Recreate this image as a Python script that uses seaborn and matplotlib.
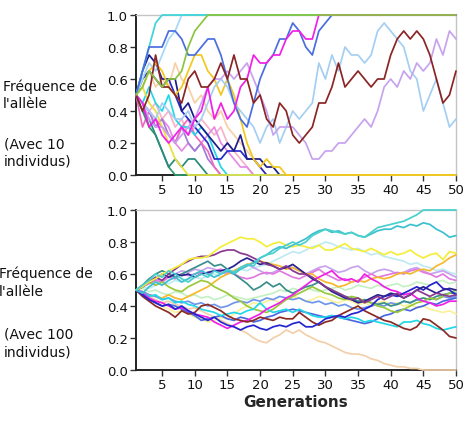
import matplotlib
matplotlib.use("Agg")
import matplotlib.pyplot as plt
import seaborn as sns
import pandas as pd
import numpy as np

generations = list(range(1, 51))

# ---------------- Top panel: 10 individuals ----------------
t_turq = [0.5, 0.65, 0.8, 0.95, 1.0, 1.0, 1.0, 1.0, 1.0, 1.0,
          1.0, 1.0, 1.0, 1.0, 1.0, 1.0, 1.0, 1.0, 1.0, 1.0,
          1.0, 1.0, 1.0, 1.0, 1.0, 1.0, 1.0, 1.0, 1.0, 1.0,
          1.0, 1.0, 1.0, 1.0, 1.0, 1.0, 1.0, 1.0, 1.0, 1.0,
          1.0, 1.0, 1.0, 1.0, 1.0, 1.0, 1.0, 1.0, 1.0, 1.0]
t_skyblue = [0.5, 0.6, 0.7, 0.65, 0.75, 0.85, 0.9, 1.0, 1.0, 1.0,
             1.0, 1.0, 1.0, 1.0, 1.0, 1.0, 1.0, 1.0, 1.0, 1.0,
             1.0, 1.0, 1.0, 1.0, 1.0, 1.0, 1.0, 1.0, 1.0, 1.0,
             1.0, 1.0, 1.0, 1.0, 1.0, 1.0, 1.0, 1.0, 1.0, 1.0,
             1.0, 1.0, 1.0, 1.0, 1.0, 1.0, 1.0, 1.0, 1.0, 1.0]
t_royal = [0.5, 0.65, 0.8, 0.8, 0.8, 0.9, 0.9, 0.85, 0.75, 0.75,
           0.8, 0.85, 0.85, 0.75, 0.6, 0.45, 0.35, 0.3, 0.45, 0.6,
           0.7, 0.75, 0.85, 0.85, 0.95, 0.9, 0.8, 0.75, 0.9, 0.95,
           1.0, 1.0, 1.0, 1.0, 1.0, 1.0, 1.0, 1.0, 1.0, 1.0,
           1.0, 1.0, 1.0, 1.0, 1.0, 1.0, 1.0, 1.0, 1.0, 1.0]
t_magenta = [0.5, 0.45, 0.3, 0.35, 0.25, 0.2, 0.25, 0.3, 0.25, 0.35,
             0.4, 0.55, 0.35, 0.45, 0.35, 0.4, 0.55, 0.6, 0.75, 0.7,
             0.7, 0.75, 0.75, 0.85, 0.9, 0.9, 0.85, 0.85, 1.0, 1.0,
             1.0, 1.0, 1.0, 1.0, 1.0, 1.0, 1.0, 1.0, 1.0, 1.0,
             1.0, 1.0, 1.0, 1.0, 1.0, 1.0, 1.0, 1.0, 1.0, 1.0]
t_brown = [0.5, 0.4, 0.5, 0.75, 0.55, 0.55, 0.5, 0.45, 0.6, 0.65,
           0.55, 0.55, 0.6, 0.7, 0.6, 0.75, 0.6, 0.6, 0.45, 0.5,
           0.35, 0.3, 0.45, 0.4, 0.25, 0.2, 0.25, 0.3, 0.45, 0.45,
           0.55, 0.7, 0.55, 0.6, 0.65, 0.6, 0.55, 0.6, 0.6, 0.75,
           0.85, 0.9, 0.85, 0.9, 0.85, 0.75, 0.6, 0.45, 0.5, 0.65]
t_paleblue = [0.5, 0.45, 0.4, 0.35, 0.45, 0.4, 0.35, 0.35, 0.4, 0.3,
              0.35, 0.45, 0.55, 0.6, 0.55, 0.45, 0.4, 0.35, 0.3, 0.2,
              0.3, 0.35, 0.2, 0.3, 0.4, 0.35, 0.4, 0.45, 0.7, 0.6,
              0.75, 0.65, 0.8, 0.75, 0.75, 0.7, 0.75, 0.9, 0.95, 0.9,
              0.85, 0.8, 0.65, 0.6, 0.4, 0.5, 0.6, 0.45, 0.3, 0.35]
t_lavender = [0.5, 0.45, 0.35, 0.3, 0.3, 0.25, 0.2, 0.25, 0.3, 0.35,
              0.45, 0.55, 0.6, 0.6, 0.65, 0.6, 0.65, 0.7, 0.6, 0.5,
              0.4, 0.25, 0.3, 0.3, 0.3, 0.25, 0.2, 0.1, 0.1, 0.15,
              0.15, 0.2, 0.2, 0.25, 0.3, 0.35, 0.3, 0.4, 0.55, 0.6,
              0.55, 0.65, 0.6, 0.7, 0.65, 0.7, 0.85, 0.75, 0.9, 0.85]
t_gold = [0.5, 0.55, 0.65, 0.7, 0.65, 0.55, 0.5, 0.55, 0.65, 0.75,
          0.75, 0.65, 0.6, 0.5, 0.6, 0.5, 0.35, 0.2, 0.1, 0.05,
          0.1, 0.05, 0.05, 0.0, 0.0, 0.0, 0.0, 0.0, 0.0, 0.0,
          0.0, 0.0, 0.0, 0.0, 0.0, 0.0, 0.0, 0.0, 0.0, 0.0,
          0.0, 0.0, 0.0, 0.0, 0.0, 0.0, 0.0, 0.0, 0.0, 0.0]
t_navy = [0.5, 0.65, 0.75, 0.7, 0.6, 0.6, 0.6, 0.4, 0.45, 0.35,
          0.3, 0.25, 0.2, 0.15, 0.2, 0.15, 0.25, 0.1, 0.1, 0.1,
          0.05, 0.05, 0.0, 0.0, 0.0, 0.0, 0.0, 0.0, 0.0, 0.0,
          0.0, 0.0, 0.0, 0.0, 0.0, 0.0, 0.0, 0.0, 0.0, 0.0,
          0.0, 0.0, 0.0, 0.0, 0.0, 0.0, 0.0, 0.0, 0.0, 0.0]
t_medblue = [0.5, 0.6, 0.65, 0.6, 0.55, 0.6, 0.5, 0.4, 0.35, 0.3,
             0.25, 0.2, 0.1, 0.1, 0.15, 0.15, 0.15, 0.1, 0.1, 0.05,
             0.0, 0.0, 0.0, 0.0, 0.0, 0.0, 0.0, 0.0, 0.0, 0.0,
             0.0, 0.0, 0.0, 0.0, 0.0, 0.0, 0.0, 0.0, 0.0, 0.0,
             0.0, 0.0, 0.0, 0.0, 0.0, 0.0, 0.0, 0.0, 0.0, 0.0]
t_seagreen = [0.5, 0.4, 0.3, 0.25, 0.15, 0.05, 0.0, 0.0, 0.0, 0.0,
              0.0, 0.0, 0.0, 0.0, 0.0, 0.0, 0.0, 0.0, 0.0, 0.0,
              0.0, 0.0, 0.0, 0.0, 0.0, 0.0, 0.0, 0.0, 0.0, 0.0,
              0.0, 0.0, 0.0, 0.0, 0.0, 0.0, 0.0, 0.0, 0.0, 0.0,
              0.0, 0.0, 0.0, 0.0, 0.0, 0.0, 0.0, 0.0, 0.0, 0.0]
t_teal = [0.5, 0.4, 0.35, 0.25, 0.15, 0.05, 0.1, 0.05, 0.1, 0.1,
          0.05, 0.0, 0.0, 0.0, 0.0, 0.0, 0.0, 0.0, 0.0, 0.0,
          0.0, 0.0, 0.0, 0.0, 0.0, 0.0, 0.0, 0.0, 0.0, 0.0,
          0.0, 0.0, 0.0, 0.0, 0.0, 0.0, 0.0, 0.0, 0.0, 0.0,
          0.0, 0.0, 0.0, 0.0, 0.0, 0.0, 0.0, 0.0, 0.0, 0.0]
t_cyan = [0.5, 0.45, 0.55, 0.45, 0.4, 0.5, 0.35, 0.3, 0.3, 0.25,
          0.3, 0.25, 0.15, 0.05, 0.0, 0.0, 0.0, 0.0, 0.0, 0.0,
          0.0, 0.0, 0.0, 0.0, 0.0, 0.0, 0.0, 0.0, 0.0, 0.0,
          0.0, 0.0, 0.0, 0.0, 0.0, 0.0, 0.0, 0.0, 0.0, 0.0,
          0.0, 0.0, 0.0, 0.0, 0.0, 0.0, 0.0, 0.0, 0.0, 0.0]
t_hotpink = [0.5, 0.3, 0.4, 0.35, 0.3, 0.25, 0.2, 0.3, 0.35, 0.25,
             0.2, 0.15, 0.05, 0.0, 0.0, 0.0, 0.0, 0.0, 0.0, 0.0,
             0.0, 0.0, 0.0, 0.0, 0.0, 0.0, 0.0, 0.0, 0.0, 0.0,
             0.0, 0.0, 0.0, 0.0, 0.0, 0.0, 0.0, 0.0, 0.0, 0.0,
             0.0, 0.0, 0.0, 0.0, 0.0, 0.0, 0.0, 0.0, 0.0, 0.0]
t_lightpink = [0.5, 0.45, 0.4, 0.45, 0.35, 0.4, 0.3, 0.35, 0.25, 0.3,
               0.35, 0.3, 0.25, 0.3, 0.2, 0.15, 0.1, 0.05, 0.0, 0.0,
               0.0, 0.0, 0.0, 0.0, 0.0, 0.0, 0.0, 0.0, 0.0, 0.0,
               0.0, 0.0, 0.0, 0.0, 0.0, 0.0, 0.0, 0.0, 0.0, 0.0,
               0.0, 0.0, 0.0, 0.0, 0.0, 0.0, 0.0, 0.0, 0.0, 0.0]
t_peach = [0.5, 0.6, 0.65, 0.55, 0.6, 0.55, 0.7, 0.6, 0.55, 0.45,
           0.5, 0.4, 0.35, 0.4, 0.3, 0.25, 0.2, 0.15, 0.1, 0.05,
           0.0, 0.0, 0.0, 0.0, 0.0, 0.0, 0.0, 0.0, 0.0, 0.0,
           0.0, 0.0, 0.0, 0.0, 0.0, 0.0, 0.0, 0.0, 0.0, 0.0,
           0.0, 0.0, 0.0, 0.0, 0.0, 0.0, 0.0, 0.0, 0.0, 0.0]
t_violet = [0.5, 0.45, 0.4, 0.3, 0.35, 0.3, 0.2, 0.15, 0.2, 0.15,
            0.2, 0.25, 0.3, 0.2, 0.15, 0.1, 0.05, 0.05, 0.0, 0.0,
            0.0, 0.0, 0.0, 0.0, 0.0, 0.0, 0.0, 0.0, 0.0, 0.0,
            0.0, 0.0, 0.0, 0.0, 0.0, 0.0, 0.0, 0.0, 0.0, 0.0,
            0.0, 0.0, 0.0, 0.0, 0.0, 0.0, 0.0, 0.0, 0.0, 0.0]
t_yellow = [0.5, 0.55, 0.45, 0.4, 0.3, 0.2, 0.1, 0.05, 0.0, 0.0,
            0.0, 0.0, 0.0, 0.0, 0.0, 0.0, 0.0, 0.0, 0.0, 0.0,
            0.0, 0.0, 0.0, 0.0, 0.0, 0.0, 0.0, 0.0, 0.0, 0.0,
            0.0, 0.0, 0.0, 0.0, 0.0, 0.0, 0.0, 0.0, 0.0, 0.0,
            0.0, 0.0, 0.0, 0.0, 0.0, 0.0, 0.0, 0.0, 0.0, 0.0]
t_purple = [0.5, 0.45, 0.4, 0.3, 0.35, 0.25, 0.2, 0.3, 0.2, 0.15,
            0.2, 0.1, 0.05, 0.0, 0.0, 0.0, 0.0, 0.0, 0.0, 0.0,
            0.0, 0.0, 0.0, 0.0, 0.0, 0.0, 0.0, 0.0, 0.0, 0.0,
            0.0, 0.0, 0.0, 0.0, 0.0, 0.0, 0.0, 0.0, 0.0, 0.0,
            0.0, 0.0, 0.0, 0.0, 0.0, 0.0, 0.0, 0.0, 0.0, 0.0]
t_green = [0.5, 0.55, 0.65, 0.6, 0.55, 0.6, 0.6, 0.65, 0.8, 0.9,
           0.95, 1.0, 1.0, 1.0, 1.0, 1.0, 1.0, 1.0, 1.0, 1.0,
           1.0, 1.0, 1.0, 1.0, 1.0, 1.0, 1.0, 1.0, 1.0, 1.0,
           1.0, 1.0, 1.0, 1.0, 1.0, 1.0, 1.0, 1.0, 1.0, 1.0,
           1.0, 1.0, 1.0, 1.0, 1.0, 1.0, 1.0, 1.0, 1.0, 1.0]

top_series = {
    "t_peach": (t_peach, "#f9cfa6"),
    "t_lightpink": (t_lightpink, "#f7b3c8"),
    "t_violet": (t_violet, "#e58be6"),
    "t_purple": (t_purple, "#a07cd8"),
    "t_hotpink": (t_hotpink, "#f06ac0"),
    "t_seagreen": (t_seagreen, "#2e9c6a"),
    "t_teal": (t_teal, "#2a8a7c"),
    "t_cyan": (t_cyan, "#22d8e8"),
    "t_medblue": (t_medblue, "#2a2ac8"),
    "t_navy": (t_navy, "#1e1e8a"),
    "t_yellow": (t_yellow, "#e8e040"),
    "t_gold": (t_gold, "#f2c81e"),
    "t_skyblue": (t_skyblue, "#a6d8f7"),
    "t_turq": (t_turq, "#3ed4d8"),
    "t_paleblue": (t_paleblue, "#a4cff2"),
    "t_lavender": (t_lavender, "#c7a3ef"),
    "t_royal": (t_royal, "#4a6ee0"),
    "t_magenta": (t_magenta, "#f020e6"),
    "t_brown": (t_brown, "#8b2525"),
    "t_green": (t_green, "#8cc63f"),
}

# ---------------- Bottom panel: 100 individuals ----------------
b_turq1 = [0.5, 0.53, 0.56, 0.6, 0.58, 0.62, 0.6, 0.57, 0.55, 0.58,
           0.6, 0.58, 0.62, 0.6, 0.63, 0.61, 0.64, 0.66, 0.65, 0.7,
           0.72, 0.73, 0.76, 0.78, 0.8, 0.78, 0.8, 0.84, 0.86, 0.88,
           0.87, 0.86, 0.85, 0.86, 0.84, 0.83, 0.86, 0.89, 0.9, 0.91,
           0.92, 0.93, 0.95, 0.97, 1.0, 1.0, 1.0, 1.0, 1.0, 1.0]
b_turq2 = [0.5, 0.48, 0.52, 0.55, 0.53, 0.56, 0.58, 0.55, 0.57, 0.6,
           0.62, 0.6, 0.58, 0.6, 0.62, 0.6, 0.63, 0.65, 0.67, 0.7,
           0.72, 0.75, 0.77, 0.76, 0.78, 0.8, 0.82, 0.85, 0.87, 0.88,
           0.86, 0.87, 0.85, 0.86, 0.84, 0.83, 0.85, 0.87, 0.88, 0.88,
           0.9, 0.89, 0.91, 0.9, 0.92, 0.91, 0.88, 0.86, 0.83, 0.84]
b_yellow = [0.5, 0.52, 0.55, 0.57, 0.6, 0.62, 0.64, 0.66, 0.69, 0.7,
            0.7, 0.71, 0.74, 0.77, 0.79, 0.81, 0.83, 0.82, 0.82, 0.8,
            0.77, 0.79, 0.8, 0.78, 0.77, 0.78, 0.77, 0.76, 0.78, 0.75,
            0.75, 0.77, 0.79, 0.76, 0.75, 0.74, 0.76, 0.74, 0.72, 0.74,
            0.72, 0.73, 0.75, 0.72, 0.7, 0.72, 0.73, 0.69, 0.74, 0.73]
b_purple = [0.5, 0.52, 0.55, 0.58, 0.56, 0.6, 0.63, 0.66, 0.68, 0.7,
            0.71, 0.71, 0.72, 0.74, 0.75, 0.75, 0.73, 0.72, 0.7, 0.68,
            0.66, 0.65, 0.63, 0.65, 0.62, 0.6, 0.6, 0.58, 0.55, 0.52,
            0.5, 0.48, 0.46, 0.44, 0.45, 0.42, 0.44, 0.46, 0.44, 0.46,
            0.48, 0.45, 0.47, 0.5, 0.48, 0.46, 0.48, 0.47, 0.46, 0.47]
b_brown = [0.5, 0.46, 0.43, 0.4, 0.38, 0.36, 0.33, 0.37, 0.35, 0.36,
           0.4, 0.41, 0.39, 0.37, 0.34, 0.32, 0.31, 0.3, 0.31, 0.33,
           0.32, 0.31, 0.33, 0.32, 0.32, 0.36, 0.33, 0.3, 0.28, 0.3,
           0.31, 0.34, 0.36, 0.38, 0.4, 0.37, 0.35, 0.33, 0.31, 0.3,
           0.28, 0.26, 0.25, 0.27, 0.32, 0.31, 0.28, 0.25, 0.21, 0.2]
b_medblue = [0.5, 0.47, 0.44, 0.42, 0.4, 0.41, 0.38, 0.4, 0.37, 0.35,
             0.33, 0.31, 0.33, 0.3, 0.28, 0.27, 0.25, 0.27, 0.28, 0.26,
             0.25, 0.27, 0.28, 0.27, 0.29, 0.3, 0.27, 0.27, 0.29, 0.32,
             0.33, 0.34, 0.33, 0.35, 0.36, 0.38, 0.4, 0.44, 0.46, 0.47,
             0.46, 0.48, 0.5, 0.52, 0.5, 0.53, 0.55, 0.51, 0.5, 0.47]
b_navy = [0.5, 0.52, 0.55, 0.57, 0.6, 0.58, 0.6, 0.59, 0.6, 0.58,
          0.6, 0.61, 0.62, 0.62, 0.63, 0.65, 0.68, 0.7, 0.68, 0.66,
          0.67, 0.65, 0.63, 0.64, 0.66, 0.63, 0.6, 0.57, 0.55, 0.52,
          0.49, 0.47, 0.45, 0.44, 0.42, 0.43, 0.45, 0.47, 0.46, 0.48,
          0.47, 0.45, 0.47, 0.5, 0.52, 0.5, 0.48, 0.5, 0.51, 0.5]
b_green = [0.5, 0.52, 0.55, 0.53, 0.55, 0.52, 0.5, 0.49, 0.52, 0.54,
           0.56, 0.55, 0.52, 0.5, 0.48, 0.45, 0.43, 0.4, 0.38, 0.37,
           0.36, 0.38, 0.41, 0.44, 0.46, 0.48, 0.5, 0.52, 0.5, 0.48,
           0.47, 0.45, 0.44, 0.46, 0.45, 0.43, 0.42, 0.4, 0.39, 0.37,
           0.36, 0.38, 0.4, 0.42, 0.43, 0.45, 0.44, 0.46, 0.48, 0.5]
b_teal = [0.5, 0.53, 0.57, 0.6, 0.62, 0.6, 0.58, 0.6, 0.62, 0.64,
          0.66, 0.68, 0.65, 0.66, 0.63, 0.6, 0.57, 0.54, 0.5, 0.52,
          0.55, 0.52, 0.54, 0.5, 0.48, 0.5, 0.52, 0.53, 0.55, 0.52,
          0.5, 0.48, 0.46, 0.45, 0.43, 0.44, 0.42, 0.41, 0.42, 0.4,
          0.41, 0.43, 0.42, 0.44, 0.45, 0.44, 0.46, 0.47, 0.48, 0.48]
b_cyan = [0.5, 0.48, 0.46, 0.47, 0.44, 0.45, 0.42, 0.43, 0.41, 0.4,
          0.38, 0.37, 0.36, 0.34, 0.35, 0.36, 0.35, 0.37, 0.38, 0.42,
          0.38, 0.36, 0.37, 0.38, 0.36, 0.38, 0.36, 0.34, 0.33, 0.33,
          0.34, 0.33, 0.32, 0.33, 0.32, 0.3, 0.31, 0.3, 0.29, 0.28,
          0.27, 0.3, 0.3, 0.31, 0.29, 0.28, 0.26, 0.25, 0.26, 0.27]
b_magenta = [0.5, 0.48, 0.45, 0.43, 0.42, 0.4, 0.38, 0.39, 0.37, 0.35,
             0.34, 0.33, 0.3, 0.28, 0.26, 0.28, 0.3, 0.31, 0.33, 0.35,
             0.38, 0.4, 0.42, 0.45, 0.47, 0.5, 0.53, 0.56, 0.58, 0.6,
             0.62, 0.58, 0.56, 0.57, 0.55, 0.6, 0.57, 0.55, 0.52, 0.5,
             0.49, 0.47, 0.48, 0.45, 0.43, 0.42, 0.4, 0.41, 0.43, 0.43]
b_orchid = [0.5, 0.52, 0.54, 0.56, 0.55, 0.58, 0.57, 0.6, 0.59, 0.6,
            0.61, 0.6, 0.62, 0.63, 0.61, 0.6, 0.58, 0.57, 0.58, 0.6,
            0.61, 0.6, 0.62, 0.6, 0.58, 0.57, 0.59, 0.61, 0.63, 0.6,
            0.58, 0.56, 0.57, 0.55, 0.56, 0.58, 0.6, 0.58, 0.59, 0.6,
            0.61, 0.6, 0.62, 0.63, 0.61, 0.6, 0.58, 0.6, 0.57, 0.56]
b_lavender = [0.5, 0.53, 0.55, 0.57, 0.56, 0.58, 0.6, 0.62, 0.61, 0.63,
              0.62, 0.64, 0.63, 0.61, 0.6, 0.62, 0.64, 0.66, 0.64, 0.62,
              0.6, 0.61, 0.63, 0.65, 0.64, 0.62, 0.6, 0.62, 0.64, 0.65,
              0.63, 0.61, 0.62, 0.64, 0.65, 0.62, 0.6, 0.62, 0.63, 0.62,
              0.6, 0.61, 0.63, 0.64, 0.62, 0.6, 0.61, 0.62, 0.6, 0.58]
b_gold = [0.5, 0.49, 0.47, 0.46, 0.45, 0.47, 0.45, 0.44, 0.46, 0.48,
          0.5, 0.52, 0.55, 0.58, 0.6, 0.62, 0.64, 0.66, 0.67, 0.68,
          0.67, 0.66, 0.65, 0.63, 0.64, 0.62, 0.6, 0.6, 0.57, 0.55,
          0.54, 0.52, 0.53, 0.55, 0.56, 0.55, 0.57, 0.58, 0.57, 0.58,
          0.6, 0.61, 0.6, 0.62, 0.63, 0.62, 0.65, 0.67, 0.7, 0.72]
b_peach = [0.5, 0.48, 0.46, 0.44, 0.42, 0.43, 0.41, 0.4, 0.38, 0.39,
           0.37, 0.35, 0.33, 0.31, 0.29, 0.27, 0.25, 0.23, 0.2, 0.18,
           0.17, 0.2, 0.22, 0.25, 0.23, 0.25, 0.22, 0.2, 0.18, 0.17,
           0.15, 0.13, 0.11, 0.1, 0.1, 0.09, 0.07, 0.06, 0.04, 0.03,
           0.02, 0.02, 0.01, 0.01, 0.0, 0.0, 0.0, 0.0, 0.0, 0.0]
b_lightyellow = [0.5, 0.48, 0.45, 0.43, 0.4, 0.38, 0.36, 0.37, 0.35, 0.33,
                 0.32, 0.3, 0.31, 0.33, 0.32, 0.35, 0.38, 0.4, 0.42, 0.41,
                 0.43, 0.44, 0.42, 0.44, 0.46, 0.45, 0.43, 0.44, 0.46, 0.45,
                 0.43, 0.42, 0.44, 0.43, 0.41, 0.42, 0.4, 0.42, 0.43, 0.41,
                 0.42, 0.4, 0.41, 0.39, 0.4, 0.38, 0.37, 0.36, 0.37, 0.35]
b_royal = [0.5, 0.47, 0.44, 0.42, 0.4, 0.41, 0.4, 0.38, 0.36, 0.34,
           0.31, 0.32, 0.33, 0.34, 0.32, 0.31, 0.33, 0.32, 0.3, 0.31,
           0.33, 0.34, 0.36, 0.37, 0.38, 0.37, 0.36, 0.35, 0.34, 0.33,
           0.34, 0.33, 0.32, 0.31, 0.3, 0.29, 0.3, 0.32, 0.34, 0.35,
           0.37, 0.38, 0.37, 0.39, 0.4, 0.42, 0.41, 0.43, 0.44, 0.45]
b_cornflower = [0.5, 0.49, 0.47, 0.46, 0.44, 0.45, 0.43, 0.42, 0.43, 0.41,
                0.42, 0.4, 0.41, 0.39, 0.4, 0.42, 0.43, 0.42, 0.44, 0.43,
                0.45, 0.44, 0.46, 0.45, 0.44, 0.45, 0.43, 0.42, 0.43, 0.41,
                0.42, 0.4, 0.41, 0.39, 0.38, 0.39, 0.4, 0.41, 0.4, 0.42,
                0.41, 0.43, 0.42, 0.44, 0.43, 0.45, 0.44, 0.46, 0.45, 0.46]
b_palecyan = [0.5, 0.52, 0.51, 0.53, 0.55, 0.54, 0.56, 0.55, 0.57, 0.58,
              0.57, 0.59, 0.6, 0.58, 0.6, 0.62, 0.63, 0.62, 0.64, 0.65,
              0.66, 0.68, 0.7, 0.72, 0.74, 0.73, 0.75, 0.77, 0.78, 0.8,
              0.79, 0.77, 0.76, 0.75, 0.76, 0.74, 0.72, 0.73, 0.71, 0.7,
              0.69, 0.68, 0.66, 0.67, 0.65, 0.64, 0.62, 0.63, 0.61, 0.6]
b_palegreen = [0.5, 0.51, 0.49, 0.5, 0.48, 0.47, 0.49, 0.48, 0.46, 0.47,
               0.45, 0.46, 0.44, 0.45, 0.47, 0.46, 0.45, 0.44, 0.45, 0.46,
               0.47, 0.48, 0.5, 0.49, 0.51, 0.5, 0.52, 0.5, 0.49, 0.5,
               0.51, 0.52, 0.5, 0.51, 0.53, 0.52, 0.51, 0.53, 0.52, 0.53,
               0.54, 0.52, 0.53, 0.55, 0.54, 0.53, 0.55, 0.56, 0.54, 0.55]

bottom_series = {
    "b_palecyan": (b_palecyan, "#bfeaf2"),
    "b_palegreen": (b_palegreen, "#c4f0c4"),
    "b_lightyellow": (b_lightyellow, "#f8f39a"),
    "b_peach": (b_peach, "#f3cfaa"),
    "b_lavender": (b_lavender, "#c7a3ef"),
    "b_orchid": (b_orchid, "#e07ae0"),
    "b_gold": (b_gold, "#f6b92e"),
    "b_cornflower": (b_cornflower, "#6f96ea"),
    "b_royal": (b_royal, "#4a68e0"),
    "b_teal": (b_teal, "#3a8f8a"),
    "b_green": (b_green, "#9ac83a"),
    "b_cyan": (b_cyan, "#22d8e6"),
    "b_magenta": (b_magenta, "#f020e6"),
    "b_brown": (b_brown, "#8b2a25"),
    "b_medblue": (b_medblue, "#2424d0"),
    "b_navy": (b_navy, "#2a2290"),
    "b_purple": (b_purple, "#8a3890"),
    "b_yellow": (b_yellow, "#f4ee3a"),
    "b_turq2": (b_turq2, "#3cbfd0"),
    "b_turq1": (b_turq1, "#48d0cc"),
}


def to_long(series):
    rows = []
    for name, (vals, _) in series.items():
        for g, v in zip(generations, vals):
            rows.append((name, g, v))
    return pd.DataFrame(rows, columns=["series", "gen", "freq"])


sns.set_theme(style="white")
plt.rcParams["font.family"] = ["DejaVu Sans"]

fig = plt.figure(figsize=(4.74, 4.31), dpi=100)
fig.patch.set_facecolor("white")
ax_top = fig.add_axes([136 / 474, 1 - 176 / 431, 320 / 474, 160 / 431])
ax_bot = fig.add_axes([136 / 474, 1 - 371 / 431, 320 / 474, 160 / 431])

for ax, series in ((ax_top, top_series), (ax_bot, bottom_series)):
    df = to_long(series)
    order = list(series.keys())
    pal = {k: c for k, (_, c) in series.items()}
    sns.lineplot(data=df, x="gen", y="freq", hue="series", hue_order=order,
                 palette=pal, estimator=None, legend=False, linewidth=1.25,
                 ax=ax, clip_on=False, zorder=3)
    ax.set_xlim(1, 50)
    ax.set_ylim(0, 1)
    ax.set_xticks([5, 10, 15, 20, 25, 30, 35, 40, 45, 50])
    ax.set_yticks([0, 0.2, 0.4, 0.6, 0.8, 1.0])
    ax.set_yticklabels(["0.0", "0.2", "0.4", "0.6", "0.8", "1.0"])
    ax.set_xlabel("")
    ax.set_ylabel("")
    ax.tick_params(axis="both", which="both", direction="out", length=4,
                   width=1, color="#333333", labelsize=9.5,
                   labelcolor="#111111", pad=2, left=True, bottom=True)
    for s in ("left", "bottom"):
        ax.spines[s].set_color("#222222")
        ax.spines[s].set_linewidth(1.4)
    for s in ("top", "right"):
        ax.spines[s].set_color("#c4c4c4")
        ax.spines[s].set_linewidth(1.0)
    ax.set_facecolor("white")

ax_bot.set_xlabel("Generations", fontsize=11, fontweight="bold", labelpad=2)

fs = 10
fig.text(3 / 474, 1 - 79 / 431, "Fréquence de\nl'allèle", fontsize=fs,
         va="top", ha="left", linespacing=1.3, color="#111111")
fig.text(4 / 474, 1 - 137 / 431, "(Avec 10\nindividus)", fontsize=fs,
         va="top", ha="left", linespacing=1.3, color="#111111")
fig.text(-1 / 474, 1 - 267 / 431, "Fréquence de\nl'allèle", fontsize=fs,
         va="top", ha="left", linespacing=1.3, color="#111111")
fig.text(4 / 474, 1 - 328 / 431, "(Avec 100\nindividus)", fontsize=fs,
         va="top", ha="left", linespacing=1.3, color="#111111")

fig.savefig("out.png", dpi=100, facecolor="white")
